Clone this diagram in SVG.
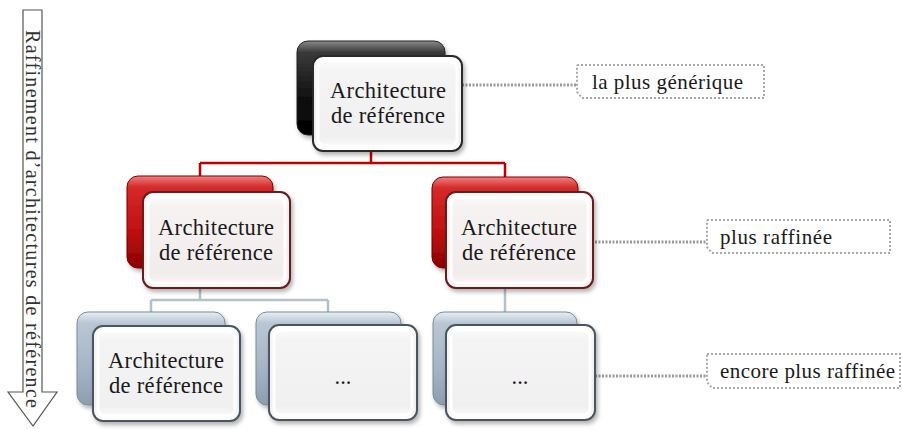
<svg xmlns="http://www.w3.org/2000/svg" width="902" height="430" viewBox="0 0 902 430">
<defs>
<linearGradient id="gBlack" x1="0" y1="0" x2="0" y2="1">
<stop offset="0" stop-color="#8a8a8a"/><stop offset="0.12" stop-color="#3a3a3a"/><stop offset="0.6" stop-color="#111"/><stop offset="1" stop-color="#000"/>
</linearGradient>
<linearGradient id="gRed" x1="0" y1="0" x2="0" y2="1">
<stop offset="0" stop-color="#f08080"/><stop offset="0.12" stop-color="#d42a2a"/><stop offset="0.6" stop-color="#c01010"/><stop offset="1" stop-color="#8a0000"/>
</linearGradient>
<linearGradient id="gBlue" x1="0" y1="0" x2="0" y2="1">
<stop offset="0" stop-color="#e8eef4"/><stop offset="0.12" stop-color="#b9c6d4"/><stop offset="0.6" stop-color="#a6b5c6"/><stop offset="1" stop-color="#8d9db0"/>
</linearGradient>
<linearGradient id="gFace" x1="0" y1="0" x2="0" y2="1">
<stop offset="0" stop-color="#ffffff"/><stop offset="0.15" stop-color="#f4f4f4"/><stop offset="0.85" stop-color="#f0f0f0"/><stop offset="1" stop-color="#ffffff"/>
</linearGradient>
<linearGradient id="gFaceRed" x1="0" y1="0" x2="0" y2="1">
<stop offset="0" stop-color="#ffffff"/><stop offset="0.15" stop-color="#f7f2f2"/><stop offset="0.85" stop-color="#f2eded"/><stop offset="1" stop-color="#fff8f8"/>
</linearGradient>
<filter id="sh" x="-10%" y="-10%" width="125%" height="125%">
<feDropShadow dx="2" dy="3" stdDeviation="2" flood-color="#000" flood-opacity="0.3"/>
</filter>
</defs>
<style>
.back{stroke-width:1}
.bk{fill:url(#gBlack);stroke:#222}
.rd{fill:url(#gRed);stroke:#7a0000}
.bl{fill:url(#gBlue);stroke:#7d8a99}
.face{fill:url(#gFace);stroke-width:2}
.fk{stroke:#2a2a2a}
.fr{fill:url(#gFaceRed);stroke:#6a1a1a}
.fb{stroke:#4a5461}
.inner{fill:none;stroke:#ffffff;stroke-width:3;opacity:0.9}
.lbl{font-family:"Liberation Serif","Times New Roman",serif;font-size:22.5px;fill:#1a1a1a;text-anchor:middle}
.call{fill:none;stroke:#a8a8a8;stroke-width:2;stroke-dasharray:2 2}
.ctxt{font-family:"Liberation Serif","Times New Roman",serif;font-size:21px;fill:#1a1a1a}
.dline{stroke:#9a9a9a;stroke-width:3;stroke-dasharray:2 1.5;fill:none}
.red{stroke:#c00000;stroke-width:2.5;fill:none}
.gray{stroke:#b4c0cc;stroke-width:2.5;fill:none}
</style>
<g id="arrow">
<path d="M23,10 H42 V392 H57 L33,426 L8,392 H23 Z" fill="#fff" stroke="#555" stroke-width="1.2"/>
<text transform="translate(26,30) rotate(90)" font-family="Liberation Serif,'Times New Roman',serif" font-size="20" fill="#333" textLength="378" lengthAdjust="spacing">Raffinement d’architectures de référence</text>
</g>
<g id="connectors">
<path class="red" d="M371,152 V163 M200,163 H505 M200,163 V177 M505,163 V177"/>
<path class="gray" d="M200,288 V300 M151,300 H328 M151,300 V312 M328,300 V312 M505,288 V312"/>
<path class="dline" d="M462,85 H577"/>
<path class="dline" d="M595,242 H707"/>
<path class="dline" d="M595,376 H707"/>
</g>
<g id="node-top">
<rect class="back bk" x="297" y="41" width="148" height="94" rx="11" filter="url(#sh)"/>
<rect class="face fk" x="313" y="56" width="149" height="95" rx="10" filter="url(#sh)"/>
<rect class="inner" x="318" y="61" width="139" height="85" rx="7"/>
<text class="lbl" x="388" y="98" textLength="116" lengthAdjust="spacing">Architecture</text>
<text class="lbl" x="388" y="123" textLength="114" lengthAdjust="spacing">de référence</text>
</g>
<g id="node-mid-left">
<rect class="back rd" x="127" y="176" width="146" height="92" rx="11" filter="url(#sh)"/>
<rect class="face fr" x="143" y="192" width="147" height="96" rx="10" filter="url(#sh)"/>
<rect class="inner" x="148" y="197" width="137" height="86" rx="7"/>
<text class="lbl" x="216" y="235" textLength="116" lengthAdjust="spacing">Architecture</text>
<text class="lbl" x="216" y="260" textLength="114" lengthAdjust="spacing">de référence</text>
</g>
<g id="node-mid-right">
<rect class="back rd" x="432" y="177" width="146" height="91" rx="11" filter="url(#sh)"/>
<rect class="face fr" x="446" y="192" width="147" height="96" rx="10" filter="url(#sh)"/>
<rect class="inner" x="451" y="197" width="137" height="86" rx="7"/>
<text class="lbl" x="519" y="235" textLength="116" lengthAdjust="spacing">Architecture</text>
<text class="lbl" x="519" y="260" textLength="114" lengthAdjust="spacing">de référence</text>
</g>
<g id="node-bot-1">
<rect class="back bl" x="77" y="312" width="148" height="93" rx="11" filter="url(#sh)"/>
<rect class="face fb" x="93" y="326" width="147" height="95" rx="10" filter="url(#sh)"/>
<rect class="inner" x="98" y="331" width="137" height="85" rx="7"/>
<text class="lbl" x="166" y="368" textLength="116" lengthAdjust="spacing">Architecture</text>
<text class="lbl" x="166" y="393" textLength="114" lengthAdjust="spacing">de référence</text>
</g>
<g id="node-bot-2">
<rect class="back bl" x="256" y="312" width="145" height="93" rx="11" filter="url(#sh)"/>
<rect class="face fb" x="269" y="325" width="148" height="95" rx="10" filter="url(#sh)"/>
<rect class="inner" x="274" y="330" width="138" height="85" rx="7"/>
<text class="lbl" x="343" y="384" font-size="14">...</text>
</g>
<g id="node-bot-3">
<rect class="back bl" x="433" y="312" width="144" height="93" rx="11" filter="url(#sh)"/>
<rect class="face fb" x="446" y="325" width="149" height="95" rx="10" filter="url(#sh)"/>
<rect class="inner" x="451" y="330" width="139" height="85" rx="7"/>
<text class="lbl" x="520" y="384" font-size="14">...</text>
</g>
<g id="callout-1">
<path class="call" d="M577,65 H764 V98 H582 L577,92 V65"/>
<text class="ctxt" x="592" y="89" textLength="151" lengthAdjust="spacing">la plus générique</text>
</g>
<g id="callout-2">
<path class="call" d="M707,220 H890 V253 H712 L707,247 V220"/>
<text class="ctxt" x="720" y="244" textLength="112" lengthAdjust="spacing">plus raffinée</text>
</g>
<g id="callout-3">
<path class="call" d="M707,354 H900 V388 H712 L707,382 V354"/>
<text class="ctxt" x="720" y="378" textLength="175" lengthAdjust="spacing">encore plus raffinée</text>
</g>
</svg>
